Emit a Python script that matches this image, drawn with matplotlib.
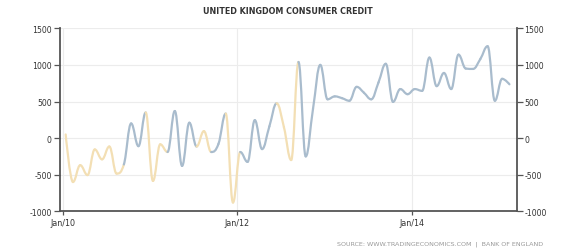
import numpy as np
import matplotlib
matplotlib.use("Agg")
import matplotlib.pyplot as plt
from matplotlib.path import Path
from matplotlib.patches import PathPatch

# Monthly UK consumer credit (GBP million), Jan 2010 .. Feb 2015
values = [50, -600, -370, -505, -155, -290, -115, -485, -360, 200,
          -110, 350, -585, -85, -190, 370, -380, 210, -115, 95,
          -190, -80, 335, -880, -190, -325, 245, -150, 160, 475,
          150, -300, 1040, -250, 400, 1000, 530, 570, 545, 510,
          700, 620, 530, 760, 1015, 495, 670, 600, 670, 645,
          1100, 710, 890, 670, 1140, 950, 945, 1080, 1255, 510,
          810, 735]
# colour of each segment (point i -> i+1): T = tan, B = blue
seg_colors = (["T"] * 8 + ["B"] * 3 + ["T"] * 3 + ["B"] * 4 + ["T"] * 2 +
              ["B"] * 2 + ["T"] * 2 + ["B"] * 5 + ["T"] * 3 + ["B"] * 29)
xtick_labels = ["Jan/10", "Jan/12", "Jan/14"]
xtick_months = [0, 24, 48]
yticks = [-1000, -500, 0, 500, 1000, 1500]

palette = {"T": "#f3dfb4", "B": "#a9bccd"}

xs = np.arange(len(values)) + 0.4
ys = np.array(values, dtype=float)

# Highcharts-style spline control points
sm = 1.5
d = sm + 1
n = len(xs)
lc = [None] * n
rc = [None] * n
for i in range(n):
    x, y = xs[i], ys[i]
    if 0 < i < n - 1:
        lx, ly = xs[i - 1], ys[i - 1]
        nx, ny = xs[i + 1], ys[i + 1]
        lcx = (sm * x + lx) / d
        lcy = (sm * y + ly) / d
        rcx = (sm * x + nx) / d
        rcy = (sm * y + ny) / d
        if rcx != lcx:
            corr = ((rcy - lcy) * (rcx - x)) / (rcx - lcx) + y - rcy
            lcy += corr
            rcy += corr
        if lcy > ly and lcy > y:
            lcy = max(ly, y); rcy = 2 * y - lcy
        elif lcy < ly and lcy < y:
            lcy = min(ly, y); rcy = 2 * y - lcy
        if rcy > ny and rcy > y:
            rcy = max(ny, y); lcy = 2 * y - rcy
        elif rcy < ny and rcy < y:
            rcy = min(ny, y); lcy = 2 * y - rcy
        lc[i] = (lcx, lcy)
        rc[i] = (rcx, rcy)
    else:
        lc[i] = (x, y)
        rc[i] = (x, y)

fig = plt.figure(figsize=(5.7, 2.53), dpi=100)
ax = fig.add_axes([59.5 / 570, 1 - 212.3 / 253, (516.7 - 59.5) / 570, (212.3 - 29.3) / 253])

for i in range(n - 1):
    verts = [(xs[i], ys[i]), rc[i], lc[i + 1], (xs[i + 1], ys[i + 1])]
    codes = [Path.MOVETO, Path.CURVE4, Path.CURVE4, Path.CURVE4]
    patch = PathPatch(Path(verts, codes), fill=False, edgecolor=palette[seg_colors[i]],
                      lw=1.6, capstyle="round", joinstyle="round", zorder=3)
    ax.add_patch(patch)

ax.set_xlim(-0.45, 62.4)
ax.set_ylim(-1000, 1500)
ax.set_yticks(yticks)
ax.set_yticklabels([str(v) for v in yticks])
ax.set_xticks(xtick_months)
ax.set_xticklabels(xtick_labels)

ax.grid(True, color="#ececec", lw=0.8, zorder=0)
ax.set_axisbelow(True)
for side in ["left", "right", "bottom"]:
    ax.spines[side].set_color("#555555")
    ax.spines[side].set_linewidth(1.3)
ax.spines["top"].set_visible(False)
ax.yaxis.set_ticks_position("both")
ax.tick_params(axis="y", which="both", direction="out", length=4, width=0.9, color="#555555",
               labelsize=5.6, labelcolor="#333333", labelright=True, pad=1.5)
ax.tick_params(axis="x", direction="out", length=3, width=0.9, color="#555555",
               labelsize=5.8, labelcolor="#333333", pad=2)

fig.text(288 / 570, 1 - 11.5 / 253, "UNITED KINGDOM CONSUMER CREDIT", ha="center", va="center",
         fontsize=5.8, fontweight="bold", color="#333333")
fig.text(543 / 570, 1 - 244 / 253, "SOURCE: WWW.TRADINGECONOMICS.COM  |  BANK OF ENGLAND",
         ha="right", va="center", fontsize=4.6, color="#999999")

fig.savefig("out.png", dpi=100, facecolor="white")
